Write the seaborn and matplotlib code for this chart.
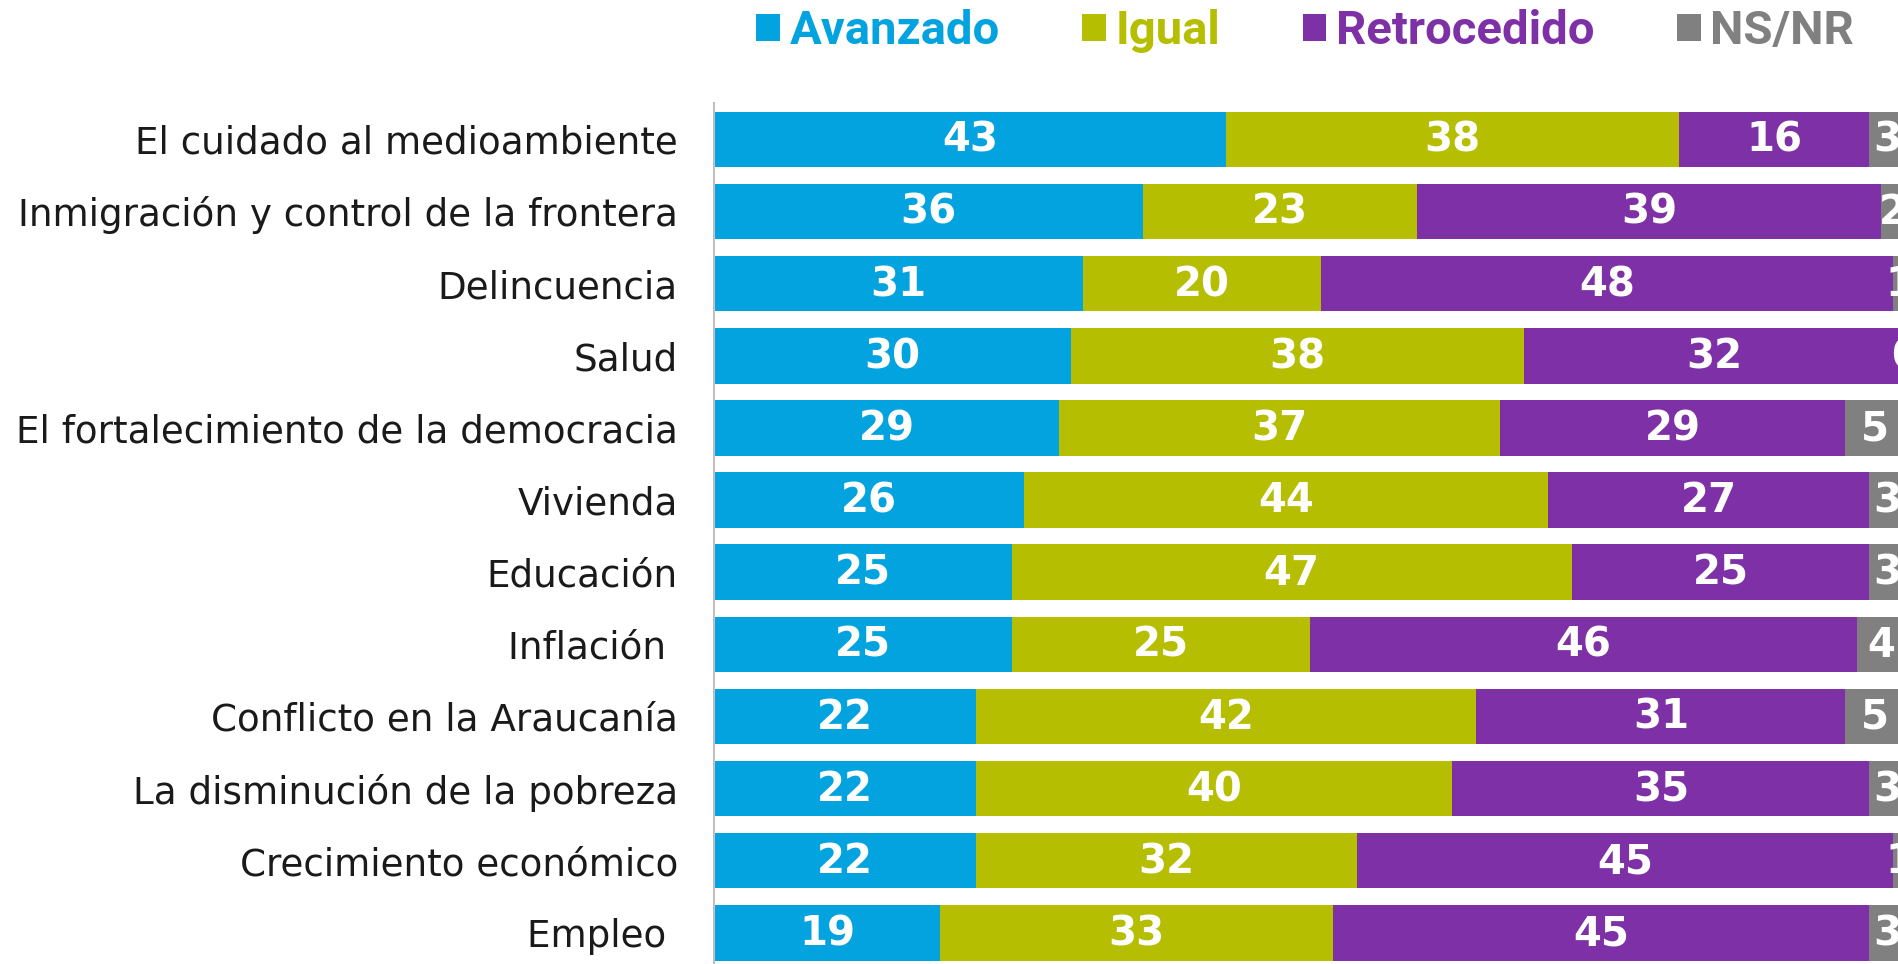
import numpy as np
import pandas as pd
import matplotlib
matplotlib.use("Agg")
import matplotlib.pyplot as plt
import seaborn as sns
from matplotlib.patches import Patch

# data (percent)
categories = [
    "El cuidado al medioambiente",
    "Inmigración y control de la frontera",
    "Delincuencia",
    "Salud",
    "El fortalecimiento de la democracia",
    "Vivienda",
    "Educación",
    "Inflación ",
    "Conflicto en la Araucanía",
    "La disminución de la pobreza",
    "Crecimiento económico",
    "Empleo ",
]
avanzado = [43, 36, 31, 30, 29, 26, 25, 25, 22, 22, 22, 19]
igual = [38, 23, 20, 38, 37, 44, 47, 25, 42, 40, 32, 33]
retrocedido = [16, 39, 48, 32, 29, 27, 25, 46, 31, 35, 45, 45]
nsnr = [3, 2, 1, 0, 5, 3, 3, 4, 5, 3, 1, 3]

series = ["Avanzado", "Igual", "Retrocedido", "NS/NR"]
colors = ["#03A3E0", "#B5BE00", "#7E30A6", "#808080"]

df = pd.DataFrame({"cat": categories, "Avanzado": avanzado, "Igual": igual,
                   "Retrocedido": retrocedido, "NS/NR": nsnr})
cum = df[series].cumsum(axis=1)

sns.set_style("white")
plt.rcParams["font.family"] = ["DejaVu Sans"]

fig = plt.figure(figsize=(18.98, 9.64), dpi=100)
ax = fig.add_axes([714 / 1898, -4.9 / 964, 1191 / 1898, 865.6 / 964])

# stacked bars: draw cumulative totals from the widest down
for s, c in reversed(list(zip(series, colors))):
    sns.barplot(x=cum[s], y=df["cat"], color=c, saturation=1, width=0.77,
                linewidth=0, orient="h", ax=ax)

# value labels in the middle of each segment
for i in range(len(df)):
    for s in series:
        v = df.loc[i, s]
        mid = cum.loc[i, s] - v / 2
        ax.text(mid, i + 0.02, str(v), ha="center", va="center", color="white",
                fontsize=29, fontweight="bold")

ax.set_xlim(0, 100)
ax.set_ylim(len(df) - 0.5, -0.5)
ax.set_xlabel("")
ax.set_ylabel("")
ax.set_xticks([])
for sp in ["top", "right", "bottom"]:
    ax.spines[sp].set_visible(False)
ax.spines["left"].set_color("#BFBFBF")
ax.spines["left"].set_linewidth(1.5)

ax.set_yticks(np.arange(-0.5, len(df), 1), minor=True)
ax.tick_params(axis="y", which="major", length=0, pad=26, labelsize=26.8,
               labelcolor="#1a1a1a")
ax.tick_params(axis="y", which="minor", length=9, width=1.3, color="#A6A6A6")
for lab in ax.get_yticklabels():
    lab.set_y(lab.get_position()[1])

# legend across the top
handles = [Patch(facecolor=c, edgecolor="none") for c in colors]
leg = fig.legend(handles, series, loc="center", bbox_to_anchor=(1305 / 1898, 1 - 31 / 964),
                 ncol=4, frameon=False, handlelength=0.5, handleheight=0.5,
                 handletextpad=0.2, columnspacing=1.75,
                 prop={"family": "Roboto", "weight": "bold", "size": 34})
for t, c in zip(leg.get_texts(), colors):
    t.set_color(c)

fig.savefig("out.png", dpi=100)
